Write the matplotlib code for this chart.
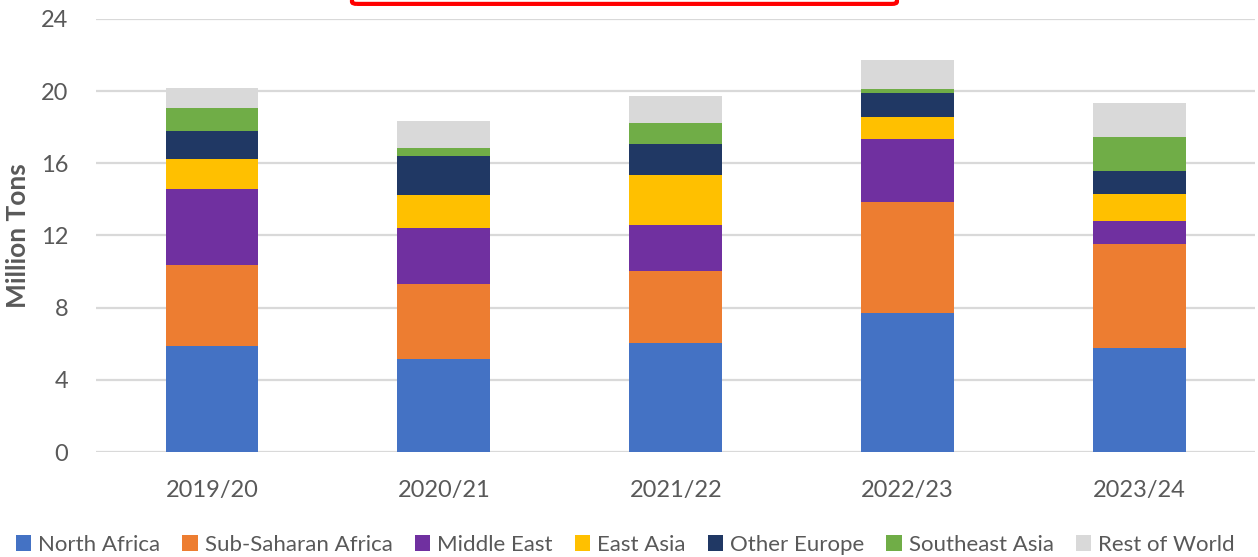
import matplotlib.pyplot as plt
import numpy as np
from matplotlib.patches import FancyBboxPatch

years = ['2019/20', '2020/21', '2021/22', '2022/23', '2023/24']
regions = ['North Africa', 'Sub-Saharan Africa', 'Middle East', 'East Asia',
           'Other Europe', 'Southeast Asia', 'Rest of World']
north_africa = [5.89, 5.16, 6.06, 7.69, 5.76]
sub_saharan = [4.48, 4.17, 3.99, 6.15, 5.77]
middle_east = [4.19, 3.07, 2.52, 3.49, 1.29]
east_asia = [1.68, 1.85, 2.77, 1.22, 1.48]
other_europe = [1.54, 2.16, 1.75, 1.33, 1.30]
southeast_asia = [1.27, 0.46, 1.16, 0.22, 1.88]
rest_of_world = [1.13, 1.50, 1.48, 1.63, 1.85]
colors = ['#4472C4', '#ED7D31', '#7030A0', '#FFC000', '#203864', '#70AD47', '#D9D9D9']

plt.rcParams['font.family'] = ['Lato', 'DejaVu Sans']

fig = plt.figure(figsize=(12.58, 5.57), dpi=100)
ax = fig.add_axes([0.0763, 0.1885, 0.9217, 0.7775])

series = [north_africa, sub_saharan, middle_east, east_asia,
          other_europe, southeast_asia, rest_of_world]
x = np.arange(len(years))
bottom = np.zeros(len(years))
for name, vals, c in zip(regions, series, colors):
    ax.bar(x, vals, 0.4, bottom=bottom, color=c, label=name, zorder=3)
    bottom += np.array(vals)

ax.set_xlim(-0.5, len(years) - 0.5)
ax.set_ylim(0, 24)
ax.set_yticks(range(0, 25, 4))
ax.set_xticks(x)
ax.set_xticklabels(years)
ax.tick_params(length=0, labelsize=17, colors='#595959')
ax.tick_params(axis='x', pad=20)
ax.tick_params(axis='y', pad=20)
ax.grid(axis='y', color='#D9D9D9', linewidth=1.6, zorder=0)
for s in ax.spines.values():
    s.set_visible(False)
ax.set_ylabel('Million Tons', fontsize=19, color='#595959', fontweight='bold', labelpad=8)

fig.legend(loc='lower center', bbox_to_anchor=(0.497, -0.032), ncol=7, frameon=False,
           fontsize=16, handlelength=0.7, handleheight=0.7, handletextpad=0.3,
           columnspacing=1.0, labelcolor='#595959')

box = FancyBboxPatch((0.2798, 0.993), 0.4332, 0.1, boxstyle='round,pad=0,rounding_size=0.004',
                     transform=fig.transFigure, fill=False, edgecolor='#FF0000',
                     linewidth=3, clip_on=False)
fig.patches.append(box)

fig.savefig('out.png', dpi=100)
